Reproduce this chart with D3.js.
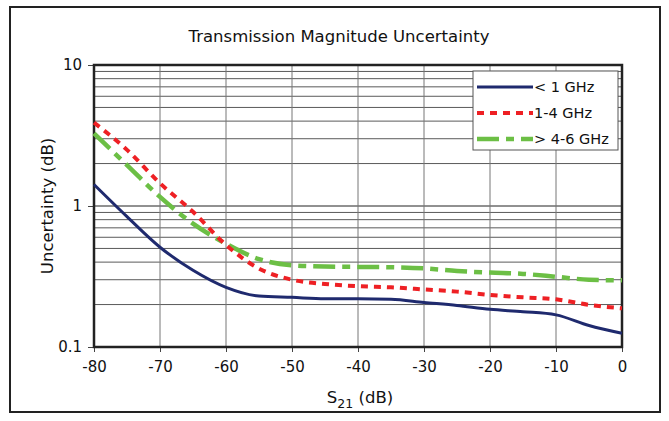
<!DOCTYPE html>
<html>
<head>
<meta charset="utf-8">
<script src="https://cdn.jsdelivr.net/npm/d3@7"></script>
<style>
  body { margin: 0; background: #fff; }
  text { font-family: "DejaVu Sans", Verdana, sans-serif; fill: #111; }
</style>
</head>
<body>
<svg id="chart" width="669" height="421"></svg>
<script>
const s21 = [-80, -75, -70, -65, -60, -55, -50, -45, -40, -35, -30, -25, -20, -15, -10, -5, 0];
const below1 = [1.42, 0.84, 0.51, 0.35, 0.265, 0.23, 0.225, 0.22, 0.22, 0.218, 0.207, 0.197, 0.185, 0.178, 0.169, 0.142, 0.125];
const band1to4 = [3.9, 2.5, 1.45, 0.91, 0.53, 0.36, 0.30, 0.28, 0.27, 0.265, 0.256, 0.247, 0.234, 0.225, 0.218, 0.199, 0.188];
const band4to6 = [3.27, 1.95, 1.16, 0.75, 0.54, 0.42, 0.38, 0.372, 0.37, 0.368, 0.361, 0.346, 0.337, 0.33, 0.315, 0.30, 0.297];
const seriesNames = ["< 1 GHz", "1-4 GHz", "> 4-6 GHz"];
const xTicks = [-80, -70, -60, -50, -40, -30, -20, -10, 0];
const yTicks = [0.1, 1, 10];

const margin = { top: 65, right: 47, bottom: 74, left: 94 };
const width = 669, height = 421;

const x = d3.scaleLinear().domain([-80, 0]).range([margin.left, width - margin.right]);
const y = d3.scaleLog().domain([0.1, 10]).range([height - margin.bottom, margin.top]);

const svg = d3.select("#chart");

// outer frame
svg.append("rect")
  .attr("x", 10).attr("y", 7).attr("width", 650).attr("height", 405)
  .attr("fill", "none").attr("stroke", "#222").attr("stroke-width", 2);

svg.append("text")
  .attr("x", 339).attr("y", 42)
  .attr("text-anchor", "middle")
  .style("font-size", "16.5px")
  .text("Transmission Magnitude Uncertainty");

// horizontal grid at every log step
const minor = [];
[0.1, 1].forEach((d) => { for (let k = 2; k <= 10; k++) minor.push(d * k); });
svg.append("g")
  .selectAll("line")
  .data(minor)
  .join("line")
  .attr("x1", x(-80)).attr("x2", x(0))
  .attr("y1", (d) => y(d)).attr("y2", (d) => y(d))
  .attr("stroke", (d) => (d === 1 ? "#222" : "#5a5a5a"))
  .attr("stroke-width", 1);

// vertical grid
svg.append("g")
  .selectAll("line")
  .data(xTicks)
  .join("line")
  .attr("x1", (d) => x(d)).attr("x2", (d) => x(d))
  .attr("y1", y(10)).attr("y2", y(0.1))
  .attr("stroke", "#777")
  .attr("stroke-width", 1);

const xAxis = (g) =>
  g.attr("transform", `translate(0,${y(0.1)})`)
    .call(d3.axisBottom(x).tickValues(xTicks).tickSize(5).tickPadding(9).tickFormat((d) => String(d)))
    .call((g) => g.select(".domain").remove())
    .call((g) => g.selectAll("line").attr("stroke", "#444"))
    .call((g) => g.selectAll("text").style("font-size", "15px").style("font-family", "DejaVu Sans"));

const yAxis = (g) =>
  g.attr("transform", `translate(${x(-80)},0)`)
    .call(d3.axisLeft(y).tickValues(yTicks).tickSize(6).tickPadding(6).tickFormat((d) => String(d)))
    .call((g) => g.select(".domain").remove())
    .call((g) => g.selectAll("line").attr("stroke", "#444"))
    .call((g) => g.selectAll("text").style("font-size", "15px").style("font-family", "DejaVu Sans"));

svg.append("g").call(xAxis);
svg.append("g").call(yAxis);

// plot border
svg.append("rect")
  .attr("x", x(-80)).attr("y", y(10))
  .attr("width", x(0) - x(-80)).attr("height", y(0.1) - y(10))
  .attr("fill", "none").attr("stroke", "#222").attr("stroke-width", 2.5);

const series = [
  { name: seriesNames[0], values: below1, color: "#1f2a6e", width: 3, dash: null },
  { name: seriesNames[1], values: band1to4, color: "#ee2024", width: 4, dash: "7,6" },
  { name: seriesNames[2], values: band4to6, color: "#6cbf45", width: 4.5, dash: "22,7,8,7" }
];

const line = d3.line()
  .x((d, i) => x(s21[i]))
  .y((d) => y(d))
  .curve(d3.curveMonotoneX);

svg.append("g")
  .selectAll("path")
  .data(series.slice().reverse())
  .join("path")
  .attr("d", (d) => line(d.values))
  .attr("fill", "none")
  .attr("stroke", (d) => d.color)
  .attr("stroke-width", (d) => d.width)
  .attr("stroke-dasharray", (d) => d.dash);

// legend
const legend = svg.append("g").attr("transform", "translate(473,71)");
legend.append("rect")
  .attr("width", 145).attr("height", 79)
  .attr("fill", "#fff").attr("stroke", "#555").attr("stroke-width", 1);
const item = legend.selectAll("g")
  .data(series)
  .join("g")
  .attr("transform", (d, i) => `translate(0,${16 + i * 26})`);
item.append("line")
  .attr("x1", 4).attr("x2", 60)
  .attr("stroke", (d) => d.color)
  .attr("stroke-width", (d) => d.width)
  .attr("stroke-dasharray", (d) => d.dash);
item.append("text")
  .attr("x", 61).attr("y", 5)
  .style("font-size", "14.5px")
  .text((d) => d.name);

// axis titles
svg.append("text")
  .attr("transform", `translate(53,${(y(10) + y(0.1)) / 2}) rotate(-90)`)
  .attr("text-anchor", "middle")
  .style("font-size", "16.5px")
  .text("Uncertainty (dB)");

const xt = svg.append("text")
  .attr("x", 360).attr("y", 403)
  .attr("text-anchor", "middle")
  .style("font-size", "16.5px");
xt.append("tspan").text("S");
xt.append("tspan").attr("dy", 5).style("font-size", "12.5px").text("21");
xt.append("tspan").attr("dy", -5).text(" (dB)");
</script>
</body>
</html>
